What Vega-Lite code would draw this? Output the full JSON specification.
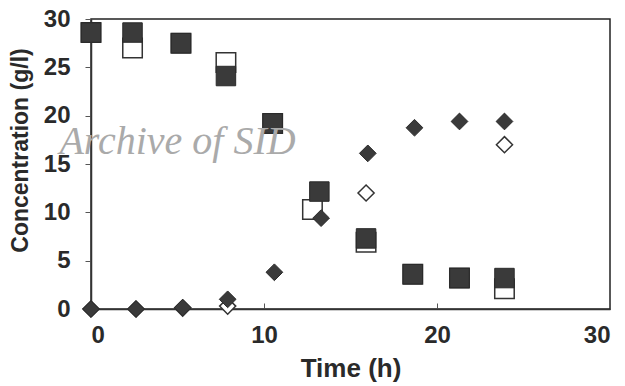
{
  "$schema": "https://vega.github.io/schema/vega-lite/v6.json",
  "width": 519,
  "height": 290,
  "autosize": "none",
  "padding": {"left": 91, "top": 19, "right": 15, "bottom": 77},
  "background": "white",
  "config": {
    "view": {"stroke": "#222", "strokeWidth": 1.5},
    "axis": {"grid": false, "domainColor": "#333", "tickColor": "#555", "labelFont": "Liberation Sans", "titleFont": "Liberation Sans", "labelColor": "#2a2a2a", "titleColor": "#2a2a2a", "labelFontWeight": "bold", "titleFontWeight": "bold"}
  },
  "datasets": {
    "pts": [
      {"t": 0, "c": 28.6, "s": "open square"},
      {"t": 2.4, "c": 27.0, "s": "open square"},
      {"t": 5.2, "c": 27.5, "s": "open square"},
      {"t": 7.8, "c": 25.5, "s": "open square"},
      {"t": 10.5, "c": 19.2, "s": "open square"},
      {"t": 12.8, "c": 10.3, "s": "open square"},
      {"t": 15.9, "c": 6.9, "s": "open square"},
      {"t": 18.6, "c": 3.6, "s": "open square"},
      {"t": 21.3, "c": 3.2, "s": "open square"},
      {"t": 23.9, "c": 2.1, "s": "open square"},
      {"t": 0, "c": 28.6, "s": "filled square"},
      {"t": 2.4, "c": 28.6, "s": "filled square"},
      {"t": 5.2, "c": 27.5, "s": "filled square"},
      {"t": 7.8, "c": 24.1, "s": "filled square"},
      {"t": 10.5, "c": 19.2, "s": "filled square"},
      {"t": 13.2, "c": 12.15, "s": "filled square"},
      {"t": 15.9, "c": 7.3, "s": "filled square"},
      {"t": 18.6, "c": 3.6, "s": "filled square"},
      {"t": 21.3, "c": 3.2, "s": "filled square"},
      {"t": 23.9, "c": 3.2, "s": "filled square"},
      {"t": 0, "c": 0, "s": "open diamond"},
      {"t": 2.6, "c": 0, "s": "open diamond"},
      {"t": 5.3, "c": 0.1, "s": "open diamond"},
      {"t": 7.9, "c": 0.3, "s": "open diamond"},
      {"t": 15.9, "c": 12.0, "s": "open diamond"},
      {"t": 23.9, "c": 17.0, "s": "open diamond"},
      {"t": 0, "c": 0, "s": "filled diamond"},
      {"t": 2.6, "c": 0, "s": "filled diamond"},
      {"t": 5.3, "c": 0.15, "s": "filled diamond"},
      {"t": 7.9, "c": 1.0, "s": "filled diamond"},
      {"t": 10.6, "c": 3.8, "s": "filled diamond"},
      {"t": 13.3, "c": 9.4, "s": "filled diamond"},
      {"t": 16.0, "c": 16.1, "s": "filled diamond"},
      {"t": 18.7, "c": 18.75, "s": "filled diamond"},
      {"t": 21.3, "c": 19.4, "s": "filled diamond"},
      {"t": 23.9, "c": 19.4, "s": "filled diamond"}
    ],
    "wm": [{"t": 5.0, "c": 17.3, "label": "Archive of SID"}]
  },
  "layer": [
    {
      "data": {"name": "pts"},
      "transform": [{"filter": "datum.s === 'open square'"}],
      "mark": {"type": "point", "shape": "square", "size": 380, "filled": true, "fill": "white", "stroke": "#333", "strokeWidth": 1.5, "opacity": 1, "clip": false},
      "encoding": {
        "x": {"field": "t", "type": "quantitative", "scale": {"domain": [0, 30], "nice": false, "zero": false}, "axis": {"values": [0, 10, 20, 30], "title": "Time (h)", "titleFontSize": 26, "titlePadding": 8, "labelFontSize": 24, "tickSize": -6, "labelPadding": 20, "domainWidth": 1.5}},
        "y": {"field": "c", "type": "quantitative", "scale": {"domain": [0, 30], "nice": false}, "axis": {"values": [0, 5, 10, 15, 20, 25, 30], "title": "Concentration (g/l)", "titleFontSize": 23, "titleX": -59, "titleY": 131, "labelFontSize": 24, "tickSize": 6, "labelPadding": 15, "domainWidth": 1.5}}
      }
    },
    {
      "data": {"name": "pts"},
      "transform": [{"filter": "datum.s === 'filled square'"}],
      "mark": {"type": "point", "shape": "square", "size": 380, "filled": true, "fill": "#3a3a3a", "stroke": "#2a2a2a", "strokeWidth": 1, "opacity": 1, "clip": false},
      "encoding": {
        "x": {"field": "t", "type": "quantitative"},
        "y": {"field": "c", "type": "quantitative"}
      }
    },
    {
      "data": {"name": "pts"},
      "transform": [{"filter": "datum.s === 'open diamond'"}],
      "mark": {"type": "point", "shape": "diamond", "size": 260, "filled": true, "fill": "white", "stroke": "#333", "strokeWidth": 1.5, "opacity": 1, "clip": false},
      "encoding": {
        "x": {"field": "t", "type": "quantitative"},
        "y": {"field": "c", "type": "quantitative"}
      }
    },
    {
      "data": {"name": "pts"},
      "transform": [{"filter": "datum.s === 'filled diamond'"}],
      "mark": {"type": "point", "shape": "diamond", "size": 280, "filled": true, "fill": "#3a3a3a", "stroke": "#2a2a2a", "strokeWidth": 1, "opacity": 1, "clip": false},
      "encoding": {
        "x": {"field": "t", "type": "quantitative"},
        "y": {"field": "c", "type": "quantitative"}
      }
    },
    {
      "data": {"name": "wm"},
      "mark": {"type": "text", "font": "Liberation Serif", "fontStyle": "italic", "fontSize": 40, "color": "#aaaaaa", "align": "center", "baseline": "middle", "clip": false},
      "encoding": {
        "x": {"field": "t", "type": "quantitative"},
        "y": {"field": "c", "type": "quantitative"},
        "text": {"field": "label"}
      }
    }
  ]
}
